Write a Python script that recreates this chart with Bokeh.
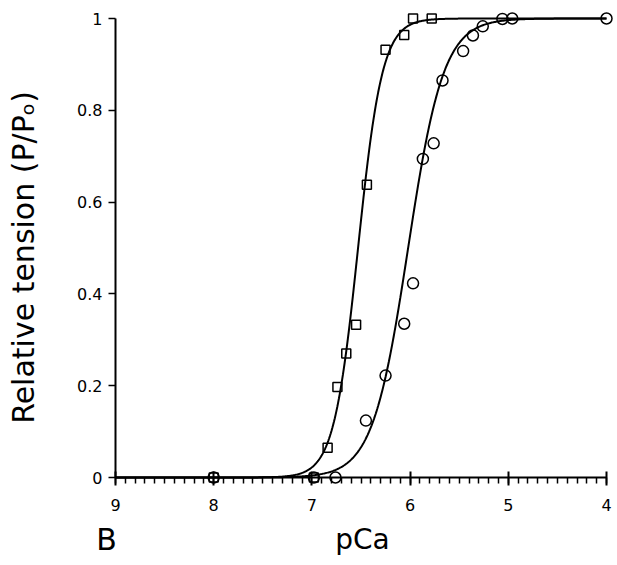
import numpy as np
from bokeh.plotting import figure
from bokeh.models import Range1d, SingleIntervalTicker, FixedTicker, CustomJSTickFormatter, Label
from bokeh.embed import file_html
from bokeh.resources import INLINE

# ---- data ----
square_pca = [8.0, 6.98, 6.84, 6.74, 6.65, 6.55, 6.44, 6.25, 6.06, 5.97, 5.78]
square_rel = [0.0, 0.0, 0.065, 0.197, 0.27, 0.333, 0.638, 0.932, 0.964, 1.0, 1.0]

circle_pca = [8.0, 6.98, 6.76, 6.45, 6.25, 6.06, 5.97, 5.87, 5.76, 5.67, 5.46, 5.36, 5.26, 5.06, 4.96, 4.0]
circle_rel = [0.0, 0.0, 0.0, 0.124, 0.222, 0.335, 0.423, 0.694, 0.728, 0.865, 0.929, 0.963, 0.983, 0.999, 1.0, 1.0]

# Hill fits (pCa50, Hill coefficient) drawn as the fitted curves
square_fit = {"pca50": 6.53, "nh": 3.5}
circle_fit = {"pca50": 6.02, "nh": 2.4}

y_ticks = [0, 0.2, 0.4, 0.6, 0.8, 1.0]
x_bounds = (4, 9)
y_bounds = (0, 1)


def hill(pca, pca50, nh):
    return 1.0 / (1.0 + 10 ** (nh * (pca - pca50)))


curve_x = np.linspace(9, 4, 601)

FONT = "DejaVu Sans"

# ---- layout: the frame covers the whole canvas; axes sit at fixed data positions ----
W, H = 615, 563
X0_PX, Y0_PX = 115, 477          # pixel of (pCa 9, tension 0)
PX_PER_PCA, PX_PER_REL = 98.2, 459.0
x_start = 9 + X0_PX / PX_PER_PCA
x_end = 9 - (W - X0_PX) / PX_PER_PCA
y_end = Y0_PX / PX_PER_REL
y_start = -(H - Y0_PX) / PX_PER_REL

p = figure(width=W, height=H,
           x_range=Range1d(x_start, x_end), y_range=Range1d(y_start, y_end),
           output_backend="svg", toolbar_location=None,
           min_border_left=0, min_border_right=0, min_border_top=0, min_border_bottom=0)
p.outline_line_color = None
p.xgrid.visible = False
p.ygrid.visible = False
p.background_fill_color = "white"
p.border_fill_color = "white"

# curves
p.line(curve_x, hill(curve_x, **square_fit), line_color="black", line_width=2)
p.line(curve_x, hill(curve_x, **circle_fit), line_color="black", line_width=2)

# markers
p.scatter(square_pca, square_rel, marker="square", size=9, fill_color=None,
          line_color="black", line_width=1.5)
p.scatter(circle_pca, circle_rel, marker="circle", size=11, fill_color=None,
          line_color="black", line_width=1.5)

# x axis
xa = p.xaxis[0]
xa.fixed_location = 0
xa.bounds = x_bounds
xa.ticker = SingleIntervalTicker(interval=1, num_minor_ticks=10)
xa.axis_line_width = 2
xa.axis_line_color = "black"
xa.major_tick_line_width = 2
xa.major_tick_line_color = "black"
xa.major_tick_in = 6
xa.major_tick_out = 8
xa.minor_tick_in = 0
xa.minor_tick_out = 6
xa.minor_tick_line_width = 1.5
xa.minor_tick_line_color = "black"
xa.major_label_text_font = FONT
xa.major_label_text_font_size = "16px"
xa.major_label_text_color = "black"
xa.major_label_standoff = 13

# y axis
ya = p.yaxis[0]
ya.fixed_location = 9
ya.bounds = y_bounds
ya.ticker = FixedTicker(ticks=y_ticks, minor_ticks=[])
ya.formatter = CustomJSTickFormatter(code="return String(Math.round(tick*10)/10);")
ya.axis_line_width = 2
ya.axis_line_color = "black"
ya.major_tick_line_width = 1.5
ya.major_tick_line_color = "black"
ya.major_tick_in = 0
ya.major_tick_out = 7
ya.minor_tick_line_color = None
ya.major_label_text_font = FONT
ya.major_label_text_font_size = "16px"
ya.major_label_text_color = "black"
ya.major_label_standoff = 6

# axis titles and panel letter (in data units, inside the frame)
p.add_layout(Label(x=9 + (X0_PX - 23) / PX_PER_PCA, y=(Y0_PX - 257) / PX_PER_REL,
                   text="Relative tension (P/Pₒ)", angle=np.pi / 2,
                   text_align="center", text_baseline="alphabetic",
                   text_font=FONT, text_font_size="30px", text_color="black"))
p.add_layout(Label(x=9 - (362 - X0_PX) / PX_PER_PCA, y=(Y0_PX - 539) / PX_PER_REL,
                   text="pCa", text_align="center",
                   text_baseline="alphabetic", text_font=FONT, text_font_size="28px",
                   text_color="black"))
p.add_layout(Label(x=9 + (X0_PX - 106) / PX_PER_PCA, y=(Y0_PX - 539) / PX_PER_REL,
                   text="B", text_align="center",
                   text_baseline="alphabetic", text_font=FONT, text_font_size="30px",
                   text_color="black"))

open("out.html", "w").write(file_html(p, INLINE))
